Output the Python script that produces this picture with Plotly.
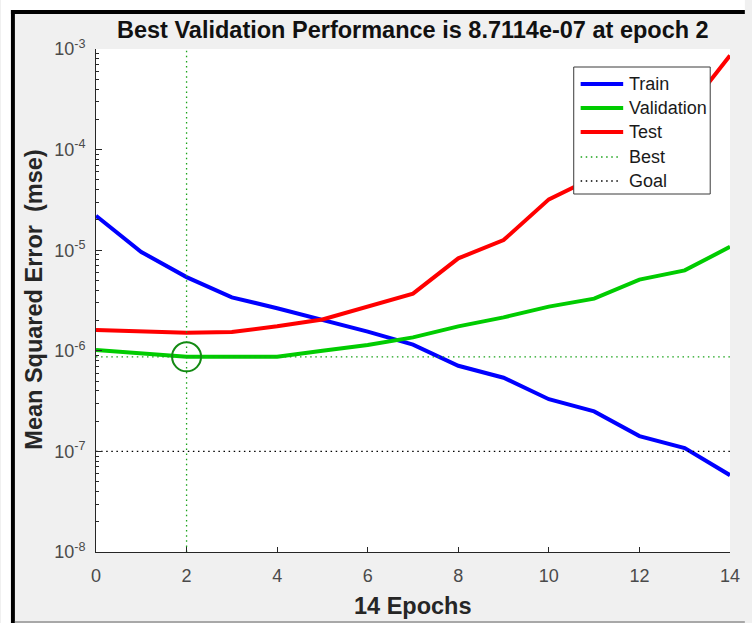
import plotly.graph_objects as go

# ---------------- data ----------------
epochs = list(range(15))
train = [2.2e-5, 9.6e-6, 5.4e-6, 3.4e-6, 2.65e-6, 2.05e-6, 1.55e-6, 1.15e-6,
         7.1e-7, 5.4e-7, 3.3e-7, 2.5e-7, 1.42e-7, 1.08e-7, 5.8e-8]
validation = [1.02e-6, 9.4e-7, 8.7114e-7, 8.72e-7, 8.75e-7, 1.0e-6, 1.14e-6, 1.36e-6,
              1.75e-6, 2.15e-6, 2.75e-6, 3.3e-6, 5.1e-6, 6.3e-6, 1.08e-5]
test = [1.61e-6, 1.56e-6, 1.51e-6, 1.54e-6, 1.75e-6, 2.05e-6, 2.75e-6, 3.7e-6,
        8.3e-6, 1.26e-5, 3.2e-5, 5.3e-5, 1.1e-4, 2.3e-4, 8.6e-4]
best_epoch = 2
best_perf = 8.7114e-07
goal = 1e-07
x_range = [0, 14]
y_limits = [1e-8, 1e-3]
x_ticks = [0, 2, 4, 6, 8, 10, 12, 14]
y_tick_vals = [1e-8, 1e-7, 1e-6, 1e-5, 1e-4, 1e-3]
y_tick_text = ["10<sup>-8</sup>", "10<sup>-7</sup>", "10<sup>-6</sup>",
               "10<sup>-5</sup>", "10<sup>-4</sup>", "10<sup>-3</sup>"]
y_minor_vals = [m * d for d in [1e-8, 1e-7, 1e-6, 1e-5, 1e-4] for m in range(2, 10)]

series_names = ["Train", "Validation", "Test", "Best", "Goal"]
title_text = "Best Validation Performance is 8.7114e-07 at epoch 2"
x_title = "14 Epochs"
y_title = "Mean Squared Error  (mse)"

# ---------------- styles ----------------
COLORS = {"Train": "#0000ff", "Validation": "#00cc00", "Test": "#ff0000",
          "Best": "#1aa31a", "Goal": "#000000"}
W, H = 752, 623
L, R, T, B = 96, 15, 49, 71
PW, PH = W - L - R, H - T - B


def px(x):
    return (x - L) / PW


def py(y):
    return (H - B - y) / PH


FONT = "Liberation Sans, Arial, Helvetica, sans-serif"
AX = "#262626"
DOT = "1.5px,3.6px"

fig = go.Figure()

fig.add_trace(go.Scatter(x=epochs, y=train, mode="lines", name="Train", showlegend=False,
                         line=dict(color=COLORS["Train"], width=4)))
fig.add_trace(go.Scatter(x=epochs, y=validation, mode="lines", name="Validation",
                         showlegend=False, line=dict(color=COLORS["Validation"], width=4)))
fig.add_trace(go.Scatter(x=epochs, y=test, mode="lines", name="Test", showlegend=False,
                         line=dict(color=COLORS["Test"], width=4)))
fig.add_trace(go.Scatter(
    x=[best_epoch, best_epoch, None, x_range[0], x_range[1]],
    y=[y_limits[0], y_limits[1], None, best_perf, best_perf],
    mode="lines", name="Best", showlegend=False,
    line=dict(color=COLORS["Best"], width=1.3, dash=DOT)))
fig.add_trace(go.Scatter(
    x=[x_range[0], x_range[1]], y=[goal, goal],
    mode="lines", name="Goal", showlegend=False,
    line=dict(color=COLORS["Goal"], width=1.3, dash=DOT)))
fig.add_trace(go.Scatter(
    x=[best_epoch], y=[best_perf], mode="markers", showlegend=False,
    marker=dict(symbol="circle-open", size=29, color="#138a13",
                line=dict(width=2, color="#138a13"))))

fig.update_layout(
    width=W, height=H,
    margin=dict(l=L, r=R, t=T, b=B, pad=0),
    paper_bgcolor="#f0f0f0", plot_bgcolor="white",
    font=dict(family=FONT, color=AX),
    showlegend=False,
    xaxis=dict(range=x_range, tickmode="array", tickvals=x_ticks,
               ticks="inside", ticklen=5, tickcolor=AX, tickwidth=1,
               showline=True, linecolor=AX, linewidth=1, mirror=False,
               showgrid=False, zeroline=False,
               tickfont=dict(size=18, color="#4a4a4a", family=FONT),
               ticklabelstandoff=7),
    yaxis=dict(type="log", range=[-8, -3], tickmode="array",
               tickvals=y_tick_vals, ticktext=y_tick_text,
               ticks="inside", ticklen=6, tickcolor=AX, tickwidth=1,
               showline=True, linecolor=AX, linewidth=1, mirror=False,
               showgrid=False, zeroline=False,
               minor=dict(tickmode="array", tickvals=y_minor_vals,
                          ticks="inside", ticklen=3, tickcolor=AX, showgrid=False),
               tickfont=dict(size=18, color="#4a4a4a", family=FONT),
               ticklabelstandoff=6),
)

annotations = [
    dict(text="<b>" + title_text + "</b>", x=px(416), y=py(30), xref="paper", yref="paper",
         xanchor="center", yanchor="middle", showarrow=False,
         font=dict(size=23.5, color="#111111", family=FONT)),
    dict(text="<b>" + x_title + "</b>", x=px(416), y=py(606), xref="paper", yref="paper",
         xanchor="center", yanchor="middle", showarrow=False,
         font=dict(size=23.5, color="#262626", family=FONT)),
    dict(text="<b>" + y_title + "</b>", x=px(33), y=py(300), xref="paper", yref="paper",
         xanchor="center", yanchor="middle", showarrow=False, textangle=-90,
         font=dict(size=23.5, color="#262626", family=FONT)),
]

shapes = [
    dict(type="rect", xref="paper", yref="paper", x0=px(0), x1=px(W), y0=py(10), y1=py(0),
         fillcolor="white", line=dict(width=0), layer="above"),
    dict(type="rect", xref="paper", yref="paper", x0=px(0), x1=px(10), y0=py(H), y1=py(0),
         fillcolor="white", line=dict(width=0), layer="above"),
    dict(type="rect", xref="paper", yref="paper", x0=px(10), x1=px(W), y0=py(14), y1=py(10),
         fillcolor="black", line=dict(width=0), layer="above"),
    dict(type="rect", xref="paper", yref="paper", x0=px(10), x1=px(14), y0=py(H), y1=py(10),
         fillcolor="black", line=dict(width=0), layer="above"),
    dict(type="rect", xref="paper", yref="paper", x0=px(14), x1=px(W), y0=py(H), y1=py(621),
         fillcolor="#a8a8a8", line=dict(width=0), layer="above"),
]

# ---------------- legend box (MATLAB style) ----------------
LEG_X0, LEG_X1, LEG_Y0, LEG_Y1 = 579, 717, 67, 194
ROW_Y = [84, 108, 132, 157, 181]
shapes.append(dict(type="rect", xref="paper", yref="paper",
                   x0=px(LEG_X0), x1=px(LEG_X1), y0=py(LEG_Y1), y1=py(LEG_Y0),
                   fillcolor="white", line=dict(color="#3a3a3a", width=1), layer="above"))
for name, ry in zip(series_names, ROW_Y):
    solid = name in ("Train", "Validation", "Test")
    shapes.append(dict(type="line", xref="paper", yref="paper",
                       x0=px(586), x1=px(629 if solid else 627), y0=py(ry), y1=py(ry),
                       line=dict(color=COLORS[name], width=4 if solid else 1.3,
                                 dash="solid" if solid else DOT),
                       layer="above"))
    annotations.append(dict(text=name, x=px(633), y=py(ry), xref="paper", yref="paper",
                            xanchor="left", yanchor="middle", showarrow=False,
                            font=dict(size=18, color="#1a1a1a", family=FONT)))

fig.update_layout(annotations=annotations, shapes=shapes)

fig.write_html("out.html", config={"displayModeBar": False},
               post_script="document.body.style.margin='0px';")
